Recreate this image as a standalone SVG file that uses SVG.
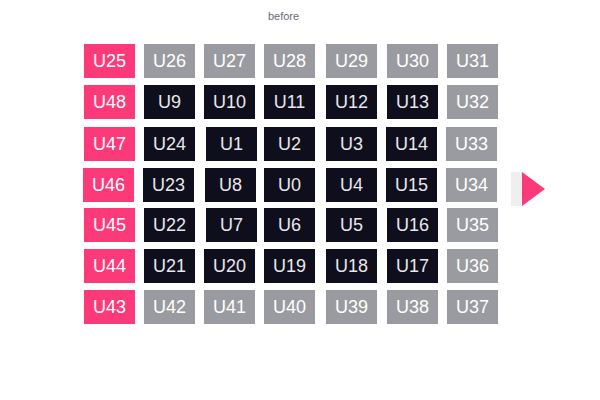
<svg xmlns="http://www.w3.org/2000/svg" width="600" height="400" viewBox="0 0 600 400">
<style>
  .p { fill: #fc3a79; }
  .g { fill: #9a9ba0; }
  .d { fill: #0f0e1c; }
  text.l { font-family: "Liberation Sans", Arial, sans-serif; font-size: 18px; fill: #ffffff; text-anchor: middle; }
  text.ld { fill: #e8e8ec; }
  .title { font-family: "Liberation Sans", Arial, sans-serif; font-size: 11px; fill: #6b6a78; text-anchor: middle; }
</style>
<defs>
  <rect id="b" width="51" height="34"/>
</defs>
<rect width="600" height="400" fill="#ffffff"/>
<text class="title" x="283.5" y="20">before</text>

<!-- Row 0 -->
<g id="U25"><use href="#b" class="p" x="84" y="44"/><text class="l" x="109.5" y="67">U25</text></g>
<g id="U26"><use href="#b" class="g" x="144" y="44"/><text class="l" x="169.5" y="67">U26</text></g>
<g id="U27"><use href="#b" class="g" x="204" y="44"/><text class="l" x="229.5" y="67">U27</text></g>
<g id="U28"><use href="#b" class="g" x="264" y="44"/><text class="l" x="289.5" y="67">U28</text></g>
<g id="U29"><use href="#b" class="g" x="326" y="44"/><text class="l" x="351.5" y="67">U29</text></g>
<g id="U30"><use href="#b" class="g" x="387" y="44"/><text class="l" x="412.5" y="67">U30</text></g>
<g id="U31"><use href="#b" class="g" x="447" y="44"/><text class="l" x="472.5" y="67">U31</text></g>

<!-- Row 1 -->
<g id="U48"><use href="#b" class="p" x="84" y="85"/><text class="l" x="109.5" y="108">U48</text></g>
<g id="U9"><use href="#b" class="d" x="144" y="85"/><text class="l ld" x="169.5" y="108">U9</text></g>
<g id="U10"><use href="#b" class="d" x="204" y="85"/><text class="l ld" x="229.5" y="108">U10</text></g>
<g id="U11"><use href="#b" class="d" x="264" y="85"/><text class="l ld" x="289.5" y="108">U11</text></g>
<g id="U12"><use href="#b" class="d" x="326" y="85"/><text class="l ld" x="351.5" y="108">U12</text></g>
<g id="U13"><use href="#b" class="d" x="387" y="85"/><text class="l ld" x="412.5" y="108">U13</text></g>
<g id="U32"><use href="#b" class="g" x="447" y="85"/><text class="l" x="472.5" y="108">U32</text></g>

<!-- Row 2 -->
<g id="U47"><use href="#b" class="p" x="84" y="127"/><text class="l" x="109.5" y="150">U47</text></g>
<g id="U24"><use href="#b" class="d" x="144" y="127"/><text class="l ld" x="169.5" y="150">U24</text></g>
<g id="U1"><use href="#b" class="d" x="206" y="127"/><text class="l ld" x="231.5" y="150">U1</text></g>
<g id="U2"><use href="#b" class="d" x="264" y="127"/><text class="l ld" x="289.5" y="150">U2</text></g>
<g id="U3"><use href="#b" class="d" x="326" y="127"/><text class="l ld" x="351.5" y="150">U3</text></g>
<g id="U14"><use href="#b" class="d" x="386" y="127"/><text class="l ld" x="411.5" y="150">U14</text></g>
<g id="U33"><use href="#b" class="g" x="446" y="127"/><text class="l" x="471.5" y="150">U33</text></g>

<!-- Row 3 -->
<g id="U46"><use href="#b" class="p" x="83" y="168"/><text class="l" x="108.5" y="191">U46</text></g>
<g id="U23"><use href="#b" class="d" x="143" y="168"/><text class="l ld" x="168.5" y="191">U23</text></g>
<g id="U8"><use href="#b" class="d" x="205" y="168"/><text class="l ld" x="230.5" y="191">U8</text></g>
<g id="U0"><use href="#b" class="d" x="264" y="168"/><text class="l ld" x="289.5" y="191">U0</text></g>
<g id="U4"><use href="#b" class="d" x="326" y="168"/><text class="l ld" x="351.5" y="191">U4</text></g>
<g id="U15"><use href="#b" class="d" x="386" y="168"/><text class="l ld" x="411.5" y="191">U15</text></g>
<g id="U34"><use href="#b" class="g" x="446" y="168"/><text class="l" x="471.5" y="191">U34</text></g>

<!-- Row 4 -->
<g id="U45"><use href="#b" class="p" x="84" y="208"/><text class="l" x="109.5" y="231">U45</text></g>
<g id="U22"><use href="#b" class="d" x="144" y="208"/><text class="l ld" x="169.5" y="231">U22</text></g>
<g id="U7"><use href="#b" class="d" x="206" y="208"/><text class="l ld" x="231.5" y="231">U7</text></g>
<g id="U6"><use href="#b" class="d" x="264" y="208"/><text class="l ld" x="289.5" y="231">U6</text></g>
<g id="U5"><use href="#b" class="d" x="326" y="208"/><text class="l ld" x="351.5" y="231">U5</text></g>
<g id="U16"><use href="#b" class="d" x="387" y="208"/><text class="l ld" x="412.5" y="231">U16</text></g>
<g id="U35"><use href="#b" class="g" x="447" y="208"/><text class="l" x="472.5" y="231">U35</text></g>

<!-- Row 5 -->
<g id="U44"><use href="#b" class="p" x="84" y="249"/><text class="l" x="109.5" y="272">U44</text></g>
<g id="U21"><use href="#b" class="d" x="144" y="249"/><text class="l ld" x="169.5" y="272">U21</text></g>
<g id="U20"><use href="#b" class="d" x="204" y="249"/><text class="l ld" x="229.5" y="272">U20</text></g>
<g id="U19"><use href="#b" class="d" x="264" y="249"/><text class="l ld" x="289.5" y="272">U19</text></g>
<g id="U18"><use href="#b" class="d" x="326" y="249"/><text class="l ld" x="351.5" y="272">U18</text></g>
<g id="U17"><use href="#b" class="d" x="387" y="249"/><text class="l ld" x="412.5" y="272">U17</text></g>
<g id="U36"><use href="#b" class="g" x="447" y="249"/><text class="l" x="472.5" y="272">U36</text></g>

<!-- Row 6 -->
<g id="U43"><use href="#b" class="p" x="84" y="290"/><text class="l" x="109.5" y="313">U43</text></g>
<g id="U42"><use href="#b" class="g" x="144" y="290"/><text class="l" x="169.5" y="313">U42</text></g>
<g id="U41"><use href="#b" class="g" x="204" y="290"/><text class="l" x="229.5" y="313">U41</text></g>
<g id="U40"><use href="#b" class="g" x="264" y="290"/><text class="l" x="289.5" y="313">U40</text></g>
<g id="U39"><use href="#b" class="g" x="326" y="290"/><text class="l" x="351.5" y="313">U39</text></g>
<g id="U38"><use href="#b" class="g" x="387" y="290"/><text class="l" x="412.5" y="313">U38</text></g>
<g id="U37"><use href="#b" class="g" x="447" y="290"/><text class="l" x="472.5" y="313">U37</text></g>

<!-- Next arrow -->
<g id="next">
  <rect x="511" y="172" width="12" height="34" fill="#efefef"/>
  <polygon points="522,172 545,189 522,206" fill="#fc3a79"/>
</g>
</svg>
